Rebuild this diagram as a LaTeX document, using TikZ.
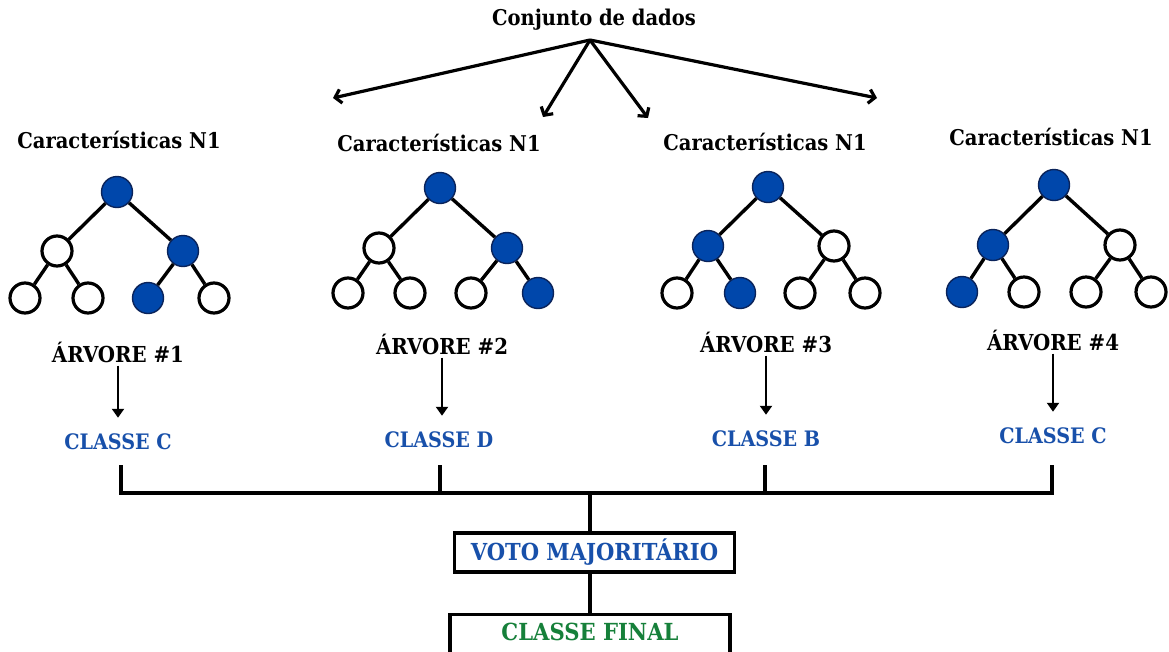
\documentclass[tikz,border=0pt]{standalone}
\usepackage{fontspec}
\setmainfont{DejaVu Serif Condensed}
\usetikzlibrary{arrows.meta}

\definecolor{nodeblue}{RGB}{0,71,171}
\definecolor{rimblue}{RGB}{10,35,90}
\definecolor{classblue}{RGB}{24,80,170}
\definecolor{finalgreen}{RGB}{22,128,58}

\tikzset{
  heading/.style={font=\bfseries\fontsize{21.7}{26}\selectfont, inner sep=1pt},
  treename/.style={font=\bfseries\fontsize{22}{26}\selectfont, inner sep=1pt},
  classlabel/.style={font=\bfseries\fontsize{21.3}{25}\selectfont, text=classblue, inner sep=1pt},
  leafnode/.style={circle, minimum size=30pt, inner sep=0pt, draw=black, line width=3.2pt, fill=white},
  hitnode/.style={circle, minimum size=31pt, inner sep=0pt, draw=rimblue, line width=1.4pt, fill=nodeblue},
  edge/.style={line width=3.4pt},
  split/.style={line width=3.2pt, -{Straight Barb[length=6pt,width=14pt,line width=3.2pt]}},
  down/.style={line width=2.8pt, -{Triangle[length=9pt,width=12pt]}},
  wire/.style={line width=3.2pt},
  panel/.style={draw=black, line width=3.2pt, fill=white, minimum width=280pt, inner sep=0pt}
}

\begin{document}
\begin{tikzpicture}[x=1pt, y=-1pt]
\clip (0,0) rectangle (1169,651);
\fill[white] (0,0) rectangle (1169,651);

% data set and the four bootstrap samples
\node[heading] (data) at (594,20) {Conjunto de dados};
\coordinate (fork) at (590,40);
\coordinate (s1) at (333,98);
\coordinate (s2) at (543,117);
\coordinate (s3) at (648,118);
\coordinate (s4) at (877,98);
\foreach \s in {s1,s2,s3,s4} \draw[split] (fork) -- (\s);

\node[heading] (h1) at (119,140) {Características N1};
\node[heading] (h2) at (439,143) {Características N1};
\node[heading] (h3) at (765,142) {Características N1};
\node[heading] (h4) at (1051,137) {Características N1};

% tree 1
\node[hitnode]  (t1r)  at (117,192) {};
\node[leafnode] (t1a)  at (57,251) {};
\node[hitnode]  (t1b)  at (183,251) {};
\node[leafnode] (t1aa) at (25,298) {};
\node[leafnode] (t1ab) at (88,298) {};
\node[hitnode]  (t1ba) at (148,298) {};
\node[leafnode] (t1bb) at (214,298) {};

% tree 2
\node[hitnode]  (t2r)  at (440,188) {};
\node[leafnode] (t2a)  at (379,248) {};
\node[hitnode]  (t2b)  at (507,248) {};
\node[leafnode] (t2aa) at (348,293) {};
\node[leafnode] (t2ab) at (410,293) {};
\node[leafnode] (t2ba) at (471,293) {};
\node[hitnode]  (t2bb) at (538,293) {};

% tree 3
\node[hitnode]  (t3r)  at (768,187) {};
\node[hitnode]  (t3a)  at (708,246) {};
\node[leafnode] (t3b)  at (834,246) {};
\node[leafnode] (t3aa) at (677,293) {};
\node[hitnode]  (t3ab) at (740,293) {};
\node[leafnode] (t3ba) at (800,293) {};
\node[leafnode] (t3bb) at (865,293) {};

% tree 4
\node[hitnode]  (t4r)  at (1054,185) {};
\node[hitnode]  (t4a)  at (993,245) {};
\node[leafnode] (t4b)  at (1120,245) {};
\node[hitnode]  (t4aa) at (962,292) {};
\node[leafnode] (t4ab) at (1024,292) {};
\node[leafnode] (t4ba) at (1086,292) {};
\node[leafnode] (t4bb) at (1151,292) {};

\foreach \t in {t1,t2,t3,t4} {
  \draw[edge] (\t r) -- (\t a);
  \draw[edge] (\t r) -- (\t b);
  \draw[edge] (\t a) -- (\t aa);
  \draw[edge] (\t a) -- (\t ab);
  \draw[edge] (\t b) -- (\t ba);
  \draw[edge] (\t b) -- (\t bb);
}

% tree names and their votes
\node[treename] (a1) at (118,352) {ÁRVORE \#1};
\node[treename] (a2) at (442,344) {ÁRVORE \#2};
\node[treename] (a3) at (766,342) {ÁRVORE \#3};
\node[treename] (a4) at (1053,340) {ÁRVORE \#4};

\node[classlabel] (c1) at (118,442) {CLASSE C};
\node[classlabel] (c2) at (439,440) {CLASSE D};
\node[classlabel] (c3) at (766,439) {CLASSE B};
\node[classlabel] (c4) at (1053,436) {CLASSE C};

\draw[down] ([yshift=-2pt]a1.south) -- ([yshift=15pt]a1.south |- c1.north);
\draw[down] ([yshift=-2pt]a2.south) -- ([yshift=15pt]a2.south |- c2.north);
\draw[down] ([yshift=-2pt]a3.south) -- ([yshift=15pt]a3.south |- c3.north);
\draw[down] ([yshift=-2pt]a4.south) -- ([yshift=15pt]a4.south |- c4.north);

% collecting the votes
\coordinate (bus) at (590,493);
\coordinate (tap1) at (121,465);
\coordinate (tap2) at (440,465);
\coordinate (tap3) at (765,465);
\coordinate (tap4) at (1052,465);
\draw[wire] (tap1) -- (tap1 |- bus) -- (tap4 |- bus) -- (tap4);
\draw[wire] (tap2) -- (tap2 |- bus);
\draw[wire] (tap3) -- (tap3 |- bus);

\node[panel, minimum height=39pt, font=\bfseries\fontsize{23.4}{27}\selectfont, text=classblue] (vote) at (594.5,552.5) {VOTO MAJORITÁRIO};
% this box runs past the lower edge of the page
\node[panel, minimum height=46pt, text height=16pt, text depth=10pt, font=\bfseries\fontsize{23.5}{27}\selectfont, text=finalgreen, anchor=north] (final) at (590,613) {CLASSE FINAL};

\draw[wire] (bus) -- (bus |- vote.north);
\draw[wire] (vote.south -| bus) -- (bus |- final.north);
\end{tikzpicture}
\end{document}
